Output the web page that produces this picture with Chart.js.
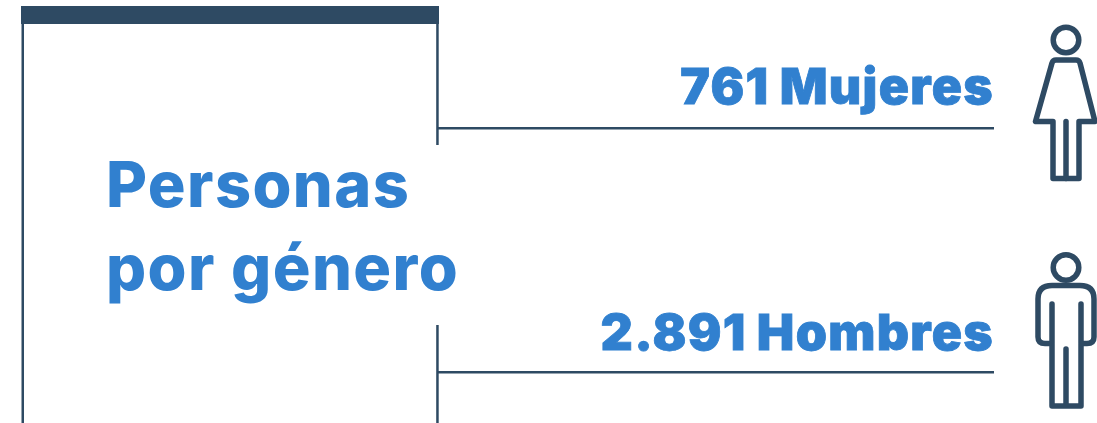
<!DOCTYPE html>
<html lang="es">
<head>
<meta charset="utf-8">
<title>Personas por género</title>
<script src="https://cdn.jsdelivr.net/npm/chart.js@4"></script>
<style>
  html, body { margin: 0; padding: 0; background: #fff; }
  canvas { display: block; }
</style>
</head>
<body>
<canvas id="chart" width="1097" height="423"></canvas>
<script>
// Data
const categories = ['Mujeres', 'Hombres'];
const personas = [761, 2891];
const valueLabels = ['761', '2.891'];
const titleLines = ['Personas', 'por género'];

const DARK = '#2e4a63';
const BLUE = '#3180cf';

function drawFrame(ctx) {
  ctx.fillStyle = DARK;
  ctx.fillRect(21, 6, 418, 18);
  ctx.fillRect(21.5, 24, 2.5, 399);
  ctx.fillRect(436.2, 24, 2.5, 121);
  ctx.fillRect(436.2, 325, 2.5, 98);
}

function drawTitle(ctx) {
  ctx.fillStyle = BLUE;
  ctx.font = '800 63px Inter';
  ctx.letterSpacing = '1.4px';
  ctx.textAlign = 'left';
  ctx.textBaseline = 'alphabetic';
  titleLines.forEach((line, i) => ctx.fillText(line, 106, 207 + i * 83));
  ctx.letterSpacing = '0px';
}

function head(ctx, x, y) {
  ctx.beginPath();
  ctx.arc(x, y, 12.8, 0, Math.PI * 2);
  ctx.stroke();
}

// Icono de mujer, rowY es la posición de la línea de la fila
function drawWoman(ctx, rowY) {
  const o = rowY - 128;
  head(ctx, 1066, 40 + o);
  ctx.beginPath();
  ctx.moveTo(1066, 60 + o);
  ctx.lineTo(1056, 60 + o);
  ctx.quadraticCurveTo(1053, 60 + o, 1052, 63 + o);
  ctx.lineTo(1035.5, 121.5 + o);
  ctx.lineTo(1053, 121.5 + o);
  ctx.lineTo(1053, 178.5 + o);
  ctx.lineTo(1079, 178.5 + o);
  ctx.lineTo(1079, 121.5 + o);
  ctx.lineTo(1095, 121.5 + o);
  ctx.lineTo(1080, 63 + o);
  ctx.quadraticCurveTo(1079, 60 + o, 1076, 60 + o);
  ctx.closePath();
  ctx.stroke();
  ctx.beginPath();
  ctx.moveTo(1066, 121.5 + o);
  ctx.lineTo(1066, 178.5 + o);
  ctx.stroke();
}

function drawMan(ctx, rowY) {
  const o = rowY - 372;
  head(ctx, 1066, 267.5 + o);
  ctx.beginPath();
  ctx.moveTo(1052, 304 + o);
  ctx.lineTo(1052, 406 + o);
  ctx.lineTo(1081, 406 + o);
  ctx.lineTo(1081, 304 + o);
  ctx.moveTo(1066, 349 + o);
  ctx.lineTo(1066, 406 + o);
  ctx.moveTo(1052, 343.5 + o);
  ctx.lineTo(1045, 343.5 + o);
  ctx.quadraticCurveTo(1038, 343.5 + o, 1038, 337 + o);
  ctx.lineTo(1038, 299 + o);
  ctx.quadraticCurveTo(1038, 285.5 + o, 1052, 285.5 + o);
  ctx.lineTo(1080, 285.5 + o);
  ctx.quadraticCurveTo(1094, 285.5 + o, 1094, 299 + o);
  ctx.lineTo(1094, 337 + o);
  ctx.quadraticCurveTo(1094, 343.5 + o, 1087, 343.5 + o);
  ctx.lineTo(1081, 343.5 + o);
  ctx.stroke();
}

// Dibuja marco, título, etiquetas e iconos sobre las filas del gráfico
const infographicPlugin = {
  id: 'infographic',
  afterDraw(chart) {
    const ctx = chart.ctx;
    const y = chart.scales.y;
    const right = chart.chartArea.right;
    ctx.save();
    drawFrame(ctx);
    drawTitle(ctx);

    ctx.fillStyle = BLUE;
    ctx.strokeStyle = BLUE;
    ctx.lineWidth = 0.8;
    ctx.textAlign = 'right';
    ctx.textBaseline = 'alphabetic';
    ctx.font = '900 50px Inter';
    ctx.letterSpacing = '1.3px';
    ctx.wordSpacing = '-1px';
    categories.forEach((name, i) => {
      const text = `${valueLabels[i]} ${name}`;
      const baseline = y.getPixelForValue(i) - 24 + i * 2;
      ctx.fillText(text, right, baseline);
      ctx.strokeText(text, right, baseline);
    });
    ctx.letterSpacing = '0px';
    ctx.wordSpacing = '0px';

    ctx.strokeStyle = DARK;
    ctx.lineWidth = 5.5;
    ctx.lineJoin = 'round';
    ctx.lineCap = 'round';
    drawWoman(ctx, y.getPixelForValue(0));
    drawMan(ctx, y.getPixelForValue(1));
    ctx.restore();
  }
};

new Chart(document.getElementById('chart'), {
  type: 'bar',
  data: {
    labels: categories,
    datasets: [{ label: 'Personas', data: personas, backgroundColor: 'transparent' }]
  },
  options: {
    indexAxis: 'y',
    responsive: false,
    animation: false,
    layout: { padding: { left: 438, right: 103, top: 128, bottom: 51 } },
    plugins: { legend: { display: false }, tooltip: { enabled: false } },
    scales: {
      x: { display: false, min: 0 },
      y: {
        offset: false,
        ticks: { display: false },
        border: { display: false },
        grid: { offset: false, color: DARK, lineWidth: 2.5, drawTicks: false }
      }
    }
  },
  plugins: [infographicPlugin]
});
</script>
</body>
</html>
